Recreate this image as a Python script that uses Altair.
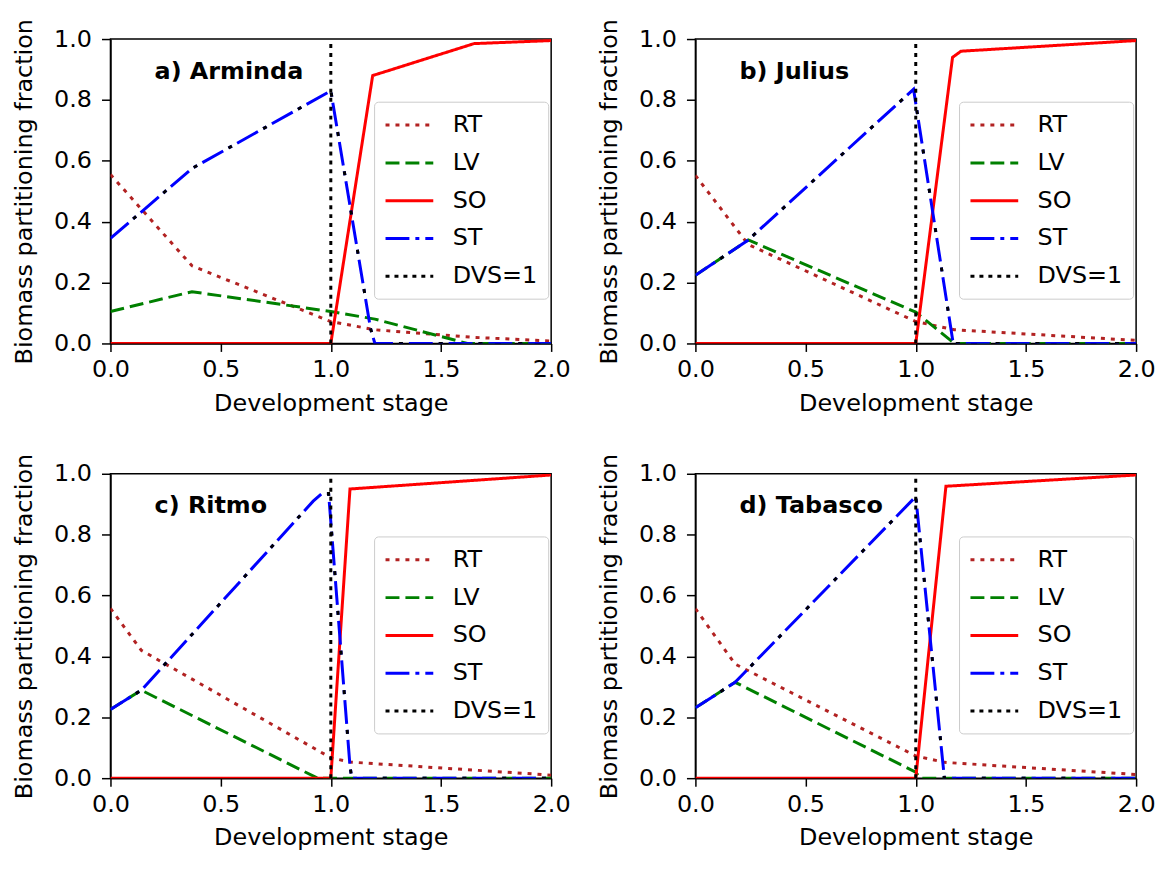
import altair as alt
import pandas as pd

SERIES = ["RT", "LV", "SO", "ST", "DVS=1"]
COLORS = ["#b22222", "#008000", "#ff0000", "#0000ff", "#000000"]
DASHES = [[4, 6], [14, 6], [1, 0], [24, 6, 4, 6], [4, 5]]

X_TICKS = [0.0, 0.5, 1.0, 1.5, 2.0]
Y_TICKS = [0.0, 0.2, 0.4, 0.6, 0.8, 1.0]

DVS_X = [1.0, 1.0]
DVS_Y = [0.0, 1.0]

# a) Arminda
A_RT_X = [0.0, 0.37, 1.0, 1.2, 1.65, 2.0]
A_RT_Y = [0.555, 0.255, 0.072, 0.045, 0.02, 0.008]
A_LV_X = [0.0, 0.37, 1.0, 1.2, 1.62, 2.0]
A_LV_Y = [0.105, 0.17, 0.105, 0.08, 0.0, 0.0]
A_SO_X = [0.0, 1.0, 1.19, 1.65, 2.0]
A_SO_Y = [0.0, 0.0, 0.88, 0.985, 0.995]
A_ST_X = [0.0, 0.37, 1.0, 1.18, 1.2, 2.0]
A_ST_Y = [0.345, 0.575, 0.83, 0.05, 0.0, 0.0]

# b) Julius
B_RT_X = [0.0, 0.24, 1.0, 1.175, 2.0]
B_RT_Y = [0.552, 0.325, 0.072, 0.045, 0.01]
B_LV_X = [0.0, 0.24, 1.0, 1.175, 2.0]
B_LV_Y = [0.224, 0.34, 0.103, 0.0, 0.0]
B_SO_X = [0.0, 1.0, 1.167, 1.205, 2.0]
B_SO_Y = [0.0, 0.0, 0.94, 0.96, 0.995]
B_ST_X = [0.0, 0.24, 0.99, 1.17, 2.0]
B_ST_Y = [0.224, 0.34, 0.835, 0.0, 0.0]

# c) Ritmo
C_RT_X = [0.0, 0.14, 1.0, 1.087, 2.0]
C_RT_Y = [0.558, 0.42, 0.067, 0.053, 0.01]
C_LV_X = [0.0, 0.14, 0.94, 2.0]
C_LV_Y = [0.226, 0.289, 0.0, 0.0]
C_SO_X = [0.0, 1.0, 1.087, 2.0]
C_SO_Y = [0.0, 0.0, 0.95, 0.996]
C_ST_X = [0.0, 0.14, 0.92, 0.96, 0.99, 1.087, 1.095, 2.0]
C_ST_Y = [0.226, 0.289, 0.91, 0.935, 0.935, 0.04, 0.0, 0.0]

# d) Tabasco
D_RT_X = [0.0, 0.18, 1.0, 1.13, 2.0]
D_RT_Y = [0.557, 0.375, 0.073, 0.052, 0.012]
D_LV_X = [0.0, 0.18, 1.0, 1.02, 2.0]
D_LV_Y = [0.231, 0.315, 0.02, 0.0, 0.0]
D_SO_X = [0.0, 1.0, 1.137, 2.0]
D_SO_Y = [0.0, 0.0, 0.959, 0.996]
D_ST_X = [0.0, 0.18, 1.0, 1.13, 2.0]
D_ST_Y = [0.231, 0.315, 0.925, 0.0, 0.0]

PANELS = [
    ("a) Arminda", (A_RT_X, A_RT_Y), (A_LV_X, A_LV_Y), (A_SO_X, A_SO_Y), (A_ST_X, A_ST_Y)),
    ("b) Julius", (B_RT_X, B_RT_Y), (B_LV_X, B_LV_Y), (B_SO_X, B_SO_Y), (B_ST_X, B_ST_Y)),
    ("c) Ritmo", (C_RT_X, C_RT_Y), (C_LV_X, C_LV_Y), (C_SO_X, C_SO_Y), (C_ST_X, C_ST_Y)),
    ("d) Tabasco", (D_RT_X, D_RT_Y), (D_LV_X, D_LV_Y), (D_SO_X, D_SO_Y), (D_ST_X, D_ST_Y)),
]

LABEL_X = 0.2
LABEL_Y = 0.87

FONT = "DejaVu Sans"
W, H = 443, 306


def make_legend():
    return alt.Legend(orient="none", legendX=265, legendY=63, title=None,
                      symbolType="M-2,0H2", symbolSize=576,
                      symbolStrokeWidth=3, symbolOffset=12, labelFontSize=24,
                      labelFont=FONT, labelColor="black",
                      labelOffset=30, rowPadding=12, padding=10,
                      strokeColor="#cccccc", fillColor="white",
                      cornerRadius=4)


def panel(title, rt, lv, so, st):
    rows = []
    for name, (xs, ys) in zip(SERIES, [rt, lv, so, st, (DVS_X, DVS_Y)]):
        for i, (xv, yv) in enumerate(zip(xs, ys)):
            rows.append({"series": name, "x": xv, "y": yv, "i": i})
    df = pd.DataFrame(rows)

    xenc = alt.X("x:Q", scale=alt.Scale(domain=[0, 2], nice=False),
                 axis=alt.Axis(values=X_TICKS, format=".1f", title="Development stage",
                               labelFlush=False))
    yenc = alt.Y("y:Q", scale=alt.Scale(domain=[0, 1], nice=False),
                 axis=alt.Axis(values=Y_TICKS, format=".1f", title="Biomass partitioning fraction",
                               labelFlush=False))

    lines = alt.Chart(df).mark_line(strokeWidth=3, clip=True).encode(
        x=xenc, y=yenc,
        color=alt.Color("series:N", scale=alt.Scale(domain=SERIES, range=COLORS),
                        legend=make_legend()),
        strokeDash=alt.StrokeDash("series:N", scale=alt.Scale(domain=SERIES, range=DASHES),
                                  legend=make_legend()),
        order=alt.Order("i:Q"),
    )

    st_dots = alt.Chart(df).transform_filter(alt.datum.series == "ST").mark_line(
        strokeWidth=3, color="black", strokeDash=[4, 36], strokeDashOffset=10, clip=True
    ).encode(x="x:Q", y="y:Q", order=alt.Order("i:Q"))

    lab = alt.Chart(pd.DataFrame({"x": [LABEL_X], "y": [LABEL_Y], "t": [title]})).mark_text(
        align="left", baseline="alphabetic", fontSize=24, fontWeight="bold", font=FONT, color="black"
    ).encode(x="x:Q", y="y:Q", text="t:N")

    return alt.layer(lines, st_dots, lab).properties(width=W, height=H)


def indep(c):
    return c.resolve_scale(
        color="independent", strokeDash="independent", x="independent", y="independent"
    ).resolve_legend(color="independent", strokeDash="independent")


charts = [panel(*p) for p in PANELS]

top = indep(alt.hconcat(charts[0], charts[1], spacing=26))
bottom = indep(alt.hconcat(charts[2], charts[3], spacing=26))
chart = indep(alt.vconcat(top, bottom, spacing=36)).properties(
    padding={"left": 4, "top": 7, "right": 0, "bottom": 0}, background="white"
).configure_view(
    stroke="black", strokeWidth=1.5
).configure_axis(
    grid=False, domainColor="black", domainWidth=1.5, tickColor="black", tickWidth=1.5,
    labelFontSize=24, labelFont=FONT, labelColor="black",
    titleFontSize=24, titleFont=FONT, titleFontWeight="normal", titleColor="black",
).configure_axisX(
    tickSize=8, labelPadding=6, titlePadding=10
).configure_axisY(
    tickSize=9, labelPadding=10, titlePadding=17
)

chart.save("out.html", embed_options={"renderer": "svg", "actions": False})
